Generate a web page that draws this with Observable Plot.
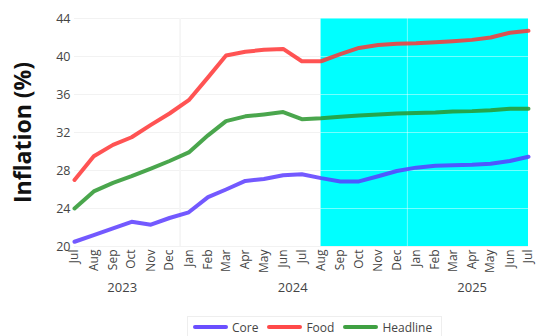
<!DOCTYPE html>
<html>
<head>
<meta charset="utf-8">
<script src="https://cdn.jsdelivr.net/npm/d3@7"></script>
<script src="https://cdn.jsdelivr.net/npm/@observablehq/plot@0.6"></script>
<style>
  html, body { margin: 0; padding: 0; background: #fff; }
  body { width: 536px; height: 336px; position: relative; overflow: hidden; font-family: "Open Sans", "Noto Sans", sans-serif; }
  #chart svg { display: block; }
  #legend {
    position: absolute; left: 187px; top: 316px; height: 20px;
    display: flex; align-items: center; gap: 5px;
    padding: 0 5px; border: 1px solid #eeeeee; border-bottom: none;
    font-size: 12px; color: #444;
  }
  #legend .item { display: flex; align-items: center; gap: 4px; margin-right: 4px; }
  #legend .sw { width: 35px; height: 4px; border-radius: 2px; }
</style>
</head>
<body>
<div id="chart"></div>
<div id="legend"></div>
<script>
// Monthly inflation, Jul 2023 – Jul 2025 (values from Aug 2024 on are projections)
const monthNames = ["Jan","Feb","Mar","Apr","May","Jun","Jul","Aug","Sep","Oct","Nov","Dec"];
const firstYear = 2023;
const firstMonth = 6; // July
const core     = [20.5, 21.2, 21.9, 22.6, 22.3, 23.0, 23.6, 25.2, 26.0, 26.9, 27.1, 27.5, 27.6,
                  27.2, 26.85, 26.85, 27.4, 27.95, 28.3, 28.5, 28.55, 28.6, 28.7, 29.0, 29.45];
const food     = [27.0, 29.5, 30.7, 31.5, 32.8, 34.0, 35.4, 37.8, 40.1, 40.5, 40.7, 40.8, 39.5,
                  39.5, 40.25, 40.9, 41.2, 41.35, 41.4, 41.5, 41.6, 41.75, 42.0, 42.5, 42.7];
const headline = [24.0, 25.8, 26.7, 27.4, 28.2, 29.0, 29.9, 31.7, 33.2, 33.7, 33.9, 34.15, 33.4,
                  33.5, 33.65, 33.8, 33.9, 34.0, 34.05, 34.1, 34.2, 34.25, 34.35, 34.5, 34.5];
const seriesNames  = ["Core", "Food", "Headline"];
const seriesColors = ["#5a3cff", "#ff3535", "#2a962e"];
const yTicks = [20, 24, 28, 32, 36, 40, 44];
const years = [2023, 2024, 2025];
const projectionStart = 13; // Aug 2024
const yLabel = "Inflation (%)";

// one observation per month, placed mid-month
const dates = core.map((_, i) => new Date(Date.UTC(firstYear, firstMonth + i, 15)));
const rows = [];
[core, food, headline].forEach((vals, s) =>
  vals.forEach((v, i) => rows.push({date: dates[i], value: v, series: seriesNames[s]})));

const yearStarts = years.map(y => new Date(Date.UTC(y, 0, 1)))
  .filter(d => d > dates[0] && d < dates[dates.length - 1]);
const yearCenters = years.map(y => {
  const ds = dates.filter(d => d.getUTCFullYear() === y);
  return {year: y, date: new Date(d3.mean(ds, d => +d))};
});
const shade = [{x1: dates[projectionStart], x2: dates[dates.length - 1], y1: yTicks[0], y2: yTicks[yTicks.length - 1]}];

const chart = Plot.plot({
  width: 536,
  height: 312,
  marginLeft: 74,
  marginRight: 8,
  marginTop: 18,
  marginBottom: 66,
  style: {fontFamily: '"Open Sans", "Noto Sans", sans-serif', background: "#fff"},
  x: {type: "utc", domain: [dates[0], dates[dates.length - 1]]},
  y: {domain: [yTicks[0], yTicks[yTicks.length - 1]]},
  color: {domain: seriesNames, range: seriesColors},
  marks: [
    Plot.gridY(yTicks, {stroke: "#e8e8e8", strokeOpacity: 1}),
    Plot.ruleX(yearStarts, {stroke: "#e8e8e8"}),
    Plot.rect(shade, {x1: "x1", x2: "x2", y1: "y1", y2: "y2", fill: "#00ffff"}),
    Plot.gridY(yTicks, {stroke: "#ffffff", strokeOpacity: 0.45}),
    Plot.ruleX(yearStarts, {stroke: "#ffffff", strokeOpacity: 0.45}),
    Plot.line(rows, {x: "date", y: "value", z: "series", stroke: "series",
      strokeWidth: 4, strokeOpacity: 0.85, strokeLinejoin: "round", strokeLinecap: "round"}),
    Plot.axisY(yTicks, {tickSize: 0, tickPadding: 4, fontSize: 12.5, fill: "#444", label: null}),
    Plot.axisX(dates, {tickSize: 0, tickPadding: 3, tickRotate: -90, fontSize: 12, fill: "#444",
      tickFormat: d => monthNames[d.getUTCMonth()], label: null}),
    Plot.text(yearCenters, {x: "date", text: d => String(d.year), frameAnchor: "bottom",
      dy: 45, fontSize: 13, fill: "#444"}),
    Plot.text([yLabel], {frameAnchor: "left", textAnchor: "middle", rotate: -90, dx: -51,
      fontSize: 23, fontWeight: "bold", fill: "#111"})
  ]
});
document.getElementById("chart").append(chart);

const legend = d3.select("#legend");
seriesNames.forEach((name, i) => {
  const item = legend.append("div").attr("class", "item");
  item.append("div").attr("class", "sw").style("background", seriesColors[i]).style("opacity", 0.9);
  item.append("span").text(name);
});
</script>
</body>
</html>
